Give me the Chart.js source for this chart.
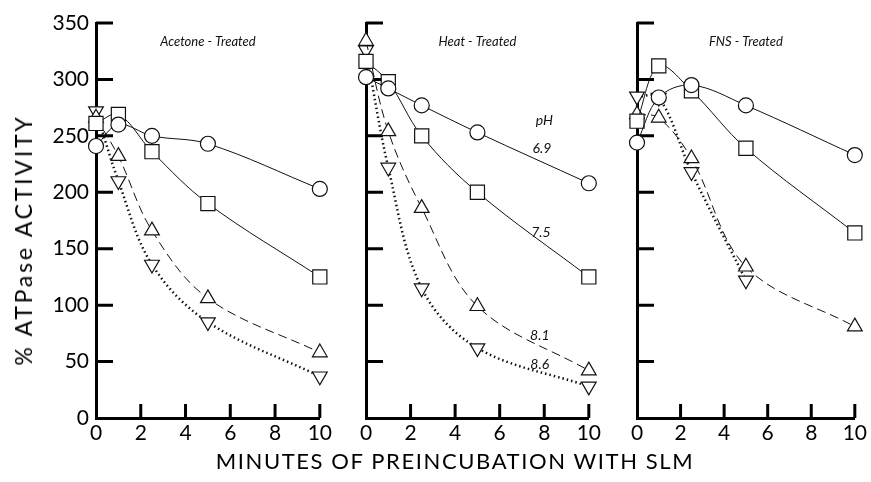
<!DOCTYPE html>
<html>
<head>
<meta charset="utf-8">
<script src="https://cdn.jsdelivr.net/npm/chart.js@4.4.1/dist/chart.umd.min.js"></script>
<style>
  body { margin: 0; background: #fff; }
  #wrap { position: relative; width: 871px; height: 482px; overflow: hidden; font-family: Lato, "DejaVu Sans", sans-serif; }
  canvas { position: absolute; top: 0; }
  #c1 { left: 0; }
  #c2 { left: 346px; }
  #c3 { left: 617px; }
  .ytitle { position: absolute; left: 23px; top: 240px; transform: translate(-50%, -50%) rotate(-90deg);
            font-size: 23px; letter-spacing: 2.8px; white-space: nowrap; color: #000; }
  .xtitle { position: absolute; left: 455px; top: 460px; transform: translate(-50%, -50%);
            font-size: 22px; letter-spacing: 1.6px; white-space: nowrap; color: #000; }
</style>
</head>
<body>
<div id="wrap">
  <canvas id="c1" width="335" height="450"></canvas>
  <canvas id="c2" width="258" height="450"></canvas>
  <canvas id="c3" width="253" height="450"></canvas>
  <div class="ytitle">% ATPase ACTIVITY</div>
  <div class="xtitle">MINUTES OF PREINCUBATION WITH SLM</div>
</div>
<script>
// minutes of preincubation
const minutes = [0, 1, 2.5, 5, 10];
const xTicks = [0, 2, 4, 6, 8, 10];
const yTicks = [0, 50, 100, 150, 200, 250, 300, 350];

// Acetone-treated
const acetone69 = [241, 260, 250, 243, 203];
const acetone75 = [261, 269, 236, 190, 125];
const acetone81 = [266, 232, 166, 106, 58];
const acetone86 = [272, 210, 136, 85, 37];

// Heat-treated
const heat69 = [302, 292, 277, 253, 208];
const heat75 = [316, 298, 250, 200, 125];
const heat81 = [334, 254, 186, 99, 42];
const heat86 = [326, 222, 115, 62, 28];

// FNS-treated
const fns69 = [244, 284, 295, 277, 233];
const fns75 = [263, 312, 290, 239, 164];
const fns81 = [269, 266, 230, 134, 81];
const fns86 = [285, 284, 218, 122];

const panelTitles = ['Acetone - Treated', 'Heat - Treated', 'FNS - Treated'];
const phLabels = ['pH', '6.9', '7.5', '8.1', '8.6'];
const phLabelX = [8.0, 7.9, 7.85, 7.8, 7.8];
const phLabelY = [264, 239, 164, 73, 47];

const FONT = 'Lato, "DejaVu Sans", sans-serif';

function toPoints(vals) {
  return vals.map((v, i) => ({ x: minutes[i], y: v }));
}

function makeSets(s69, s75, s81, s86) {
  const base = {
    borderColor: '#111',
    backgroundColor: '#fff',
    pointBackgroundColor: '#fff',
    pointBorderColor: '#111',
    pointBorderWidth: 1.2,
    tension: 0.35,
    clip: false
  };
  return [
    Object.assign({}, base, { label: '6.9', data: toPoints(s69), borderWidth: 1, pointStyle: 'circle', pointRadius: 7.5 }),
    Object.assign({}, base, { label: '7.5', data: toPoints(s75), borderWidth: 1, pointStyle: 'rect', pointRadius: 10 }),
    Object.assign({}, base, { label: '8.1', data: toPoints(s81), borderWidth: 1, borderDash: [9, 5], pointStyle: 'triangle', pointRadius: 8.5 }),
    Object.assign({}, base, { label: '8.6', data: toPoints(s86), borderWidth: 2.5, borderDash: [1.5, 3], pointStyle: 'triangle', pointRotation: 180, pointRadius: 8.5 })
  ];
}

// inward tick marks + panel texts
const panelDeco = {
  id: 'panelDeco',
  beforeDatasetsDraw(chart, args, opts) {
    const ctx = chart.ctx;
    const xs = chart.scales.x, ys = chart.scales.y;
    ctx.save();
    ctx.strokeStyle = '#000';
    ctx.lineWidth = 3;
    ctx.beginPath();
    yTicks.forEach(v => {
      if (v === 0) return;
      const py = ys.getPixelForValue(v);
      ctx.moveTo(xs.left, py);
      ctx.lineTo(xs.left + 17, py);
    });
    xTicks.forEach(v => {
      if (v === 0) return;
      const px = xs.getPixelForValue(v);
      ctx.moveTo(px, ys.bottom);
      ctx.lineTo(px, ys.bottom - 14);
    });
    ctx.stroke();

    ctx.fillStyle = '#111';
    ctx.textAlign = 'center';
    ctx.textBaseline = 'middle';
    ctx.font = 'italic 13px ' + FONT;
    ctx.fillText(opts.title, xs.getPixelForValue(5), ys.getPixelForValue(333));
    if (opts.ph) {
      ctx.font = 'italic 14px ' + FONT;
      phLabels.forEach((t, i) => {
        ctx.fillText(t, xs.getPixelForValue(phLabelX[i]), ys.getPixelForValue(phLabelY[i]));
      });
    }
    ctx.restore();
  }
};

function makeChart(id, sets, idx, showY) {
  return new Chart(document.getElementById(id), {
    type: 'line',
    data: { datasets: sets },
    plugins: [panelDeco],
    options: {
      responsive: false,
      animation: false,
      layout: { padding: { top: 23, right: 12, bottom: 0, left: 0 } },
      plugins: {
        legend: { display: false },
        tooltip: { enabled: false },
        panelDeco: { title: panelTitles[idx], ph: idx === 1 }
      },
      scales: {
        x: {
          type: 'linear',
          min: 0,
          max: 10,
          afterBuildTicks: s => { s.ticks = xTicks.map(v => ({ value: v })); },
          afterFit: s => { s.height = 32; },
          grid: { display: false, drawTicks: false },
          border: { display: true, width: 3, color: '#000' },
          ticks: { color: '#000', padding: 3, maxRotation: 0, font: { family: FONT, size: 21 } }
        },
        y: {
          min: 0,
          max: 350,
          afterBuildTicks: s => { s.ticks = yTicks.map(v => ({ value: v })); },
          afterFit: s => { s.width = showY ? 96 : 20; },
          grid: { display: false, drawTicks: false },
          border: { display: true, width: 3, color: '#000' },
          ticks: { display: showY, color: '#000', padding: 7, font: { family: FONT, size: 21 } }
        }
      }
    }
  });
}

makeChart('c1', makeSets(acetone69, acetone75, acetone81, acetone86), 0, true);
makeChart('c2', makeSets(heat69, heat75, heat81, heat86), 1, false);
makeChart('c3', makeSets(fns69, fns75, fns81, fns86), 2, false);
</script>
</body>
</html>
